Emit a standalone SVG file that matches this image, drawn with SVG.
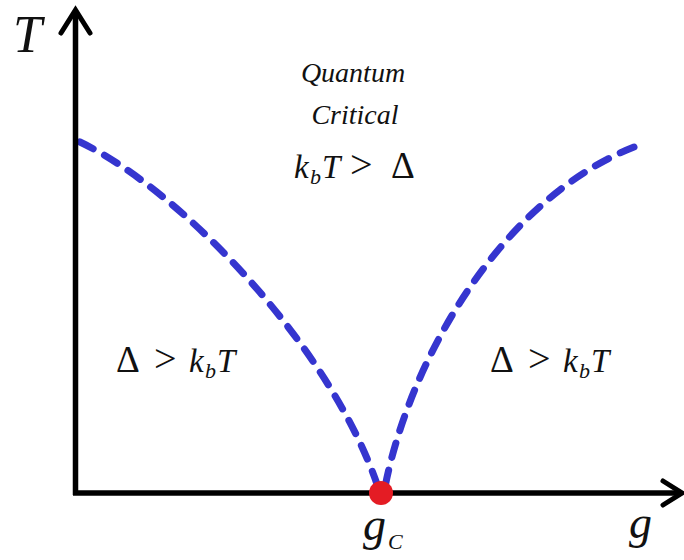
<svg xmlns="http://www.w3.org/2000/svg" width="684" height="560" viewBox="0 0 684 560">
<style>
.axis{stroke:#000;stroke-width:5.5;fill:none;stroke-linecap:butt}
.head{stroke:#000;stroke-width:5;fill:none;stroke-linecap:round;stroke-linejoin:miter}
.crit{stroke:#3535cf;stroke-width:7;fill:none;stroke-linecap:round;stroke-dasharray:15 13}
.t{font-family:"Liberation Serif","DejaVu Serif",serif;fill:#111}
.i{font-style:italic}
.m{font-size:33px}
.s{font-size:22px;font-style:italic}
.gt{font-size:40px}
.d{font-size:37px}
</style>
<rect width="684" height="560" fill="#fff"/>
<g id="connectors">
<path class="crit" d="M80,142 C180,190 330,345 378,487"/>
<path class="crit" d="M634,147 C500,200 410,360 385,487"/>
</g>
<g id="axes">
<line class="axis" x1="75.5" y1="495" x2="75.5" y2="12"/>
<polyline class="head" points="61,33 75.5,10 90,33"/>
<line class="axis" x1="73" y1="493" x2="680" y2="493"/>
<polyline class="head" points="663,481 682,493 663,505"/>
</g>
<g id="critical-point">
<circle cx="381" cy="493" r="12" fill="#e41c24"/>
</g>
<g id="labels">
<text class="t i" x="13" y="52" font-size="52">T</text>
<text class="t i" x="629" y="538" font-size="46">g</text>
<text class="t" x="363" y="540" font-size="46"><tspan class="i">g</tspan><tspan class="i" font-size="22" dx="2" dy="9">C</tspan></text>
<text class="t i" x="353" y="82" font-size="28" text-anchor="middle">Quantum</text>
<text class="t i" x="355" y="124" font-size="28" text-anchor="middle">Critical</text>
<text class="t m" y="178"><tspan class="i" x="294">k</tspan><tspan class="s" x="310" y="184">b</tspan><tspan class="i" x="322" y="178">T</tspan><tspan class="gt" x="350">&gt;</tspan><tspan class="d" x="391">Δ</tspan></text>
<text class="t m" y="372"><tspan class="d" x="116">Δ</tspan><tspan class="gt" x="154">&gt;</tspan><tspan class="i" x="189">k</tspan><tspan class="s" x="205" y="378">b</tspan><tspan class="i" x="217" y="372">T</tspan></text>
<text class="t m" y="372"><tspan class="d" x="490">Δ</tspan><tspan class="gt" x="528">&gt;</tspan><tspan class="i" x="563">k</tspan><tspan class="s" x="579" y="378">b</tspan><tspan class="i" x="591" y="372">T</tspan></text>
</g>
</svg>
